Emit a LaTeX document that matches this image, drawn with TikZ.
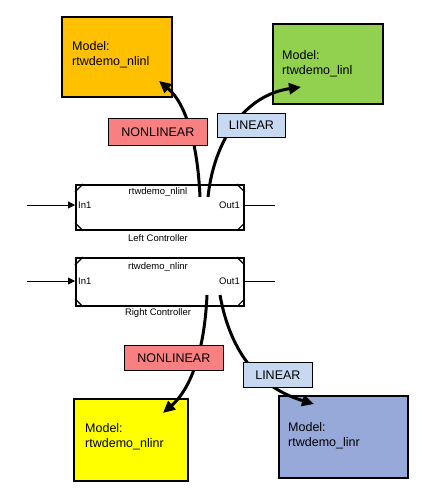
\documentclass[tikz,border=0pt]{standalone}
\usepackage{fontspec}
\setmainfont{Liberation Sans}
\usetikzlibrary{arrows.meta}
\definecolor{cOrange}{HTML}{FFC000}
\definecolor{cGreen}{HTML}{92D050}
\definecolor{cYellow}{HTML}{FFFF00}
\definecolor{cBlue}{HTML}{97A9D8}
\definecolor{cSalmon}{HTML}{F98080}
\definecolor{cLight}{HTML}{C6D9F1}
\tikzset{
  modelbox/.style={draw=black, line width=2pt, anchor=north west, inner sep=0pt},
  modeltext/.style={anchor=north west, align=left, inner sep=0pt, font=\fontsize{12.5}{15}\selectfont},
  tagbox/.style={draw=black, line width=0.8pt, anchor=north west, inner sep=0pt, font=\fontsize{12.5}{15}\selectfont},
  ctrlbox/.style={draw=black, line width=1.8pt, fill=white, anchor=north west, inner sep=0pt, minimum width=168pt},
  smalltext/.style={inner sep=0pt, font=\fontsize{9.5}{11}\selectfont},
  bigarrow/.style={line width=3pt, -{Triangle[length=12pt,width=11pt]}},
  sigline/.style={line width=0.8pt},
}
\begin{document}
\begin{tikzpicture}[x=1pt,y=-1pt]
\useasboundingbox (0,0) rectangle (424,501);
% model boxes
\node[modelbox, fill=cOrange, minimum width=110pt, minimum height=80pt] (mnl) at (61,16) {};
\node[modeltext] (tnl) at (72,41) {Model:\\rtwdemo\_nlinl};
\node[modelbox, fill=cGreen, minimum width=110pt, minimum height=80pt] (ml) at (272,23) {};
\node[modeltext] (tl) at (282,50) {Model:\\rtwdemo\_linl};
\node[modelbox, fill=cYellow, minimum width=114pt, minimum height=82pt] (mnr) at (73,398) {};
\node[modeltext] (tnr) at (85,423) {Model:\\rtwdemo\_nlinr};
\node[modelbox, fill=cBlue, minimum width=129pt, minimum height=82pt] (mr) at (278,395) {};
\node[modeltext] (tr) at (288,422) {Model:\\rtwdemo\_linr};
% controllers
\node[ctrlbox, minimum height=45pt] (cl) at (75,184) {};
\node[ctrlbox, minimum height=48pt] (cr) at (75,257) {};
\foreach \c in {cl,cr}{
  \draw[line width=1.2pt] ([xshift=8pt]\c.north west) -- ([yshift=-8pt]\c.north west);
  \draw[line width=1.2pt] ([xshift=-8pt]\c.north east) -- ([yshift=-8pt]\c.north east);
  \draw[line width=1.2pt] ([xshift=8pt]\c.south west) -- ([yshift=8pt]\c.south west);
  \draw[line width=1.2pt] ([xshift=-8pt]\c.south east) -- ([yshift=8pt]\c.south east);
}
\node[smalltext] (cltitle) at (158,192) {rtwdemo\_nlinl};
\node[smalltext, anchor=west] (clin) at (78,205) {In1};
\node[smalltext, anchor=east] (clout) at (240,205) {Out1};
\node[smalltext] (cllab) at (158,238) {Left Controller};
\node[smalltext] (crtitle) at (158,267) {rtwdemo\_nlinr};
\node[smalltext, anchor=west] (crin) at (78,281) {In1};
\node[smalltext, anchor=east] (crout) at (240,281) {Out1};
\node[smalltext] (crlab) at (158,313) {Right Controller};
% signal lines
\coordinate (inl) at (27,205);
\coordinate (outl) at (275,205);
\coordinate (inr) at (27,281);
\coordinate (outr) at (275,281);
\draw[sigline, -{Triangle[length=7pt,width=7pt]}] (inl) -- (inl -| cl.west);
\draw[sigline] (outl -| cl.east) -- (outl);
\draw[sigline, -{Triangle[length=7pt,width=7pt]}] (inr) -- (inr -| cr.west);
\draw[sigline] (outr -| cr.east) -- (outr);
% big arrows
\coordinate (s1) at (200,197);
\coordinate (e1) at (159,81);
\coordinate (s2) at (208,197);
\coordinate (e2) at (301,87);
\coordinate (s3) at (207,295);
\coordinate (e3) at (163,413);
\coordinate (s4) at (220,295);
\coordinate (e4) at (314,404);
\draw[bigarrow] (s1) .. controls (198,150) and (188,105) .. (e1);
\draw[bigarrow] (s2) .. controls (214,140) and (245,95) .. (e2);
\draw[bigarrow] (s3) .. controls (205,340) and (195,385) .. (e3);
\draw[bigarrow] (s4) .. controls (228,340) and (250,385) .. (e4);
% tags
\node[tagbox, fill=cSalmon, minimum width=99pt, minimum height=27pt] (nl1) at (108,118) {NONLINEAR};
\node[tagbox, fill=cLight, minimum width=68pt, minimum height=24pt] (l1) at (217,113) {LINEAR};
\node[tagbox, fill=cSalmon, minimum width=99pt, minimum height=25pt] (nl2) at (124,345) {NONLINEAR};
\node[tagbox, fill=cLight, minimum width=69pt, minimum height=25pt] (l2) at (243,362) {LINEAR};
\end{tikzpicture}
\end{document}
